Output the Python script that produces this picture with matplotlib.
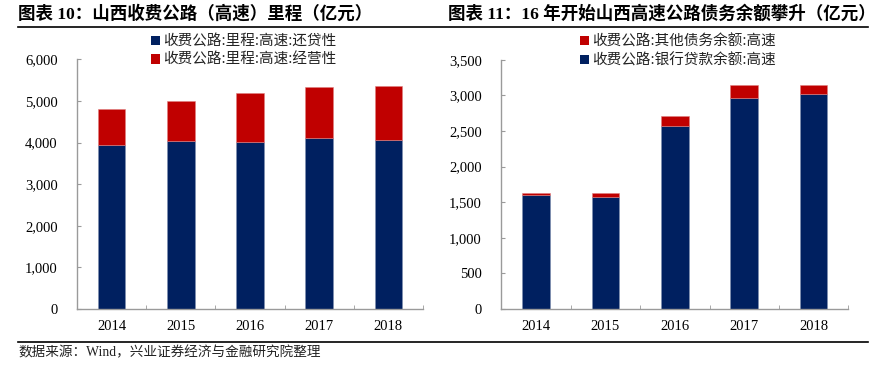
import matplotlib
matplotlib.use("Agg")
import matplotlib.pyplot as plt
from matplotlib.lines import Line2D
from matplotlib.patches import Patch
from matplotlib.ticker import FuncFormatter, FixedLocator

plt.rcParams['font.family'] = ['Liberation Serif', 'Noto Sans CJK SC', 'DejaVu Sans']

years = ['2014', '2015', '2016', '2017', '2018']

# Chart 10: mileage (left)
repay = [3940, 4045, 4015, 4110, 4070]        # 还贷性
operating = [870, 945, 1170, 1220, 1280]      # 经营性

# Chart 11: debt (right)
bank_loans = [1605, 1573, 2575, 2968, 3024]   # 银行贷款余额
other_debt = [20, 52, 140, 173, 117]          # 其他债务余额

NAVY = '#002060'
RED = '#C00000'
AXC = '#9a9a9a'
CJK = ['Noto Sans CJK SC', 'DejaVu Sans']

fig = plt.figure(figsize=(8.88, 3.66), dpi=100)
W, H = 888, 366

def ax_rect(x0, x1, ybot, ytop):
    return [x0 / W, 1 - ybot / H, (x1 - x0) / W, (ybot - ytop) / H]

axL = fig.add_axes(ax_rect(77, 423, 309, 59.4))
axR = fig.add_axes(ax_rect(501.3, 848.3, 309, 59.8))

fmt = FuncFormatter(lambda v, p: f"{int(v):,}")

def style(ax, ymax, step):
    ax.set_xlim(-0.5, 4.5)
    ax.set_ylim(0, ymax)
    ax.set_yticks(range(0, ymax + 1, step))
    ax.yaxis.set_major_formatter(fmt)
    ax.set_xticks(range(len(years)))
    ax.set_xticklabels(years)
    ax.xaxis.set_minor_locator(FixedLocator([i + 0.5 for i in range(-1, 5)]))
    ax.tick_params(axis='x', which='major', length=0, pad=8, labelsize=10.5)
    ax.tick_params(axis='x', which='minor', length=3, direction='in', color=AXC)
    ax.tick_params(axis='y', length=3, direction='in', color=AXC, labelsize=10.5, pad=14)
    for s in ['top', 'right']:
        ax.spines[s].set_visible(False)
    for s in ['left', 'bottom']:
        ax.spines[s].set_color(AXC)
        ax.spines[s].set_linewidth(1.0)

bw = 0.4
x = list(range(len(years)))
axL.bar(x, repay, width=bw, color=NAVY, edgecolor='#7f8fb0', linewidth=0.4)
axL.bar(x, operating, width=bw, bottom=repay, color=RED, edgecolor='#e08080', linewidth=0.4)
style(axL, 6000, 1000)

axR.bar(x, bank_loans, width=bw, color=NAVY, edgecolor='#7f8fb0', linewidth=0.4)
axR.bar(x, other_debt, width=bw, bottom=bank_loans, color=RED, edgecolor='#e08080', linewidth=0.4)
style(axR, 3500, 500)

# Legends
def add_legend(items, x_px, y_px):
    handles = [Patch(facecolor=c, edgecolor='none') for c, _ in items]
    labels = [t for _, t in items]
    fig.legend(handles, labels, loc='upper left',
               bbox_to_anchor=(x_px / W, 1 - y_px / H), frameon=False,
               prop={'family': CJK, 'size': 10.5}, handlelength=0.6, handleheight=0.6,
               handletextpad=0.2, labelspacing=0.3, borderpad=0, borderaxespad=0,
               labelcolor='#222222')

add_legend([(NAVY, '收费公路:里程:高速:还贷性'), (RED, '收费公路:里程:高速:经营性')], 151, 34.5)
add_legend([(RED, '收费公路:其他债务余额:高速'), (NAVY, '收费公路:银行贷款余额:高速')], 580, 34.5)

# Titles
fig.text(18 / W, 1 - 14 / H, '图表 10：山西收费公路（高速）里程（亿元）', fontsize=12.6,
         fontweight='bold', va='center', ha='left')
fig.text(448 / W, 1 - 14 / H, '图表 11：16 年开始山西高速公路债务余额攀升（亿元）', fontsize=12.6,
         fontweight='bold', va='center', ha='left')

# Rules
fig.add_artist(Line2D([18 / W, 868 / W], [1 - 27 / H, 1 - 27 / H], color='black', linewidth=1.2))
fig.add_artist(Line2D([18 / W, 868 / W], [1 - 341.5 / H, 1 - 341.5 / H], color='black', linewidth=1.2))

# Source
fig.text(18 / W, 1 - 353 / H, '数据来源：Wind，兴业证券经济与金融研究院整理', fontsize=9.8,
         va='center', ha='left', color='#222222')

fig.savefig('out.png', dpi=100)
